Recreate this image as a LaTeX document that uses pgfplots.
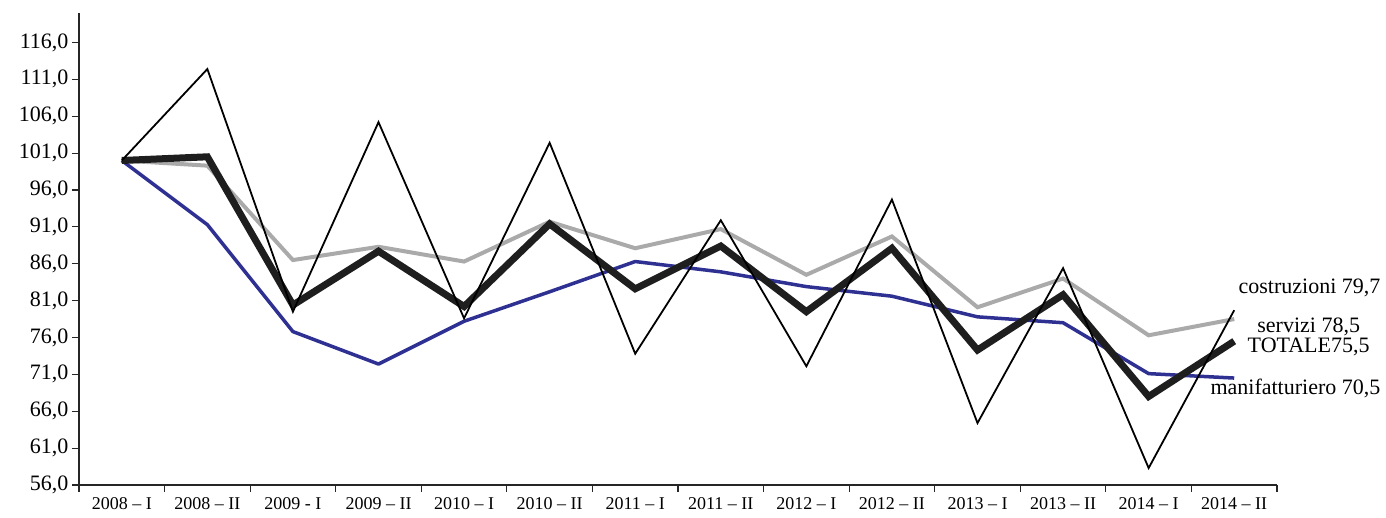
\documentclass[border=0pt]{standalone}
\usepackage{fontspec}
\setmainfont{Liberation Serif}
\usepackage{pgfplots}
\pgfplotsset{compat=1.18}
\definecolor{manblue}{RGB}{46,49,146}
\definecolor{servgray}{RGB}{170,170,170}
\definecolor{totblack}{RGB}{30,30,30}

\begin{document}
\begin{tikzpicture}
\begin{axis}[
    name=a,
    scale only axis,
    width=1198pt, height=472pt,
    xmin=-0.5, xmax=13.5,
    ymin=56, ymax=120,
    axis x line*=bottom,
    axis y line*=left,
    axis line style={-, line width=1.2pt, black!85},
    tick style={line width=1.2pt, black!85},
    tick align=outside,
    major tick length=7pt,
    ytick={56,61,...,116},
    xtick={-0.5,0.5,...,13.5},
    x tick label as interval,
    xticklabels={2008 -- I, 2008 -- II, 2009 - I, 2009 -- II, 2010 -- I, 2010 -- II, 2011 -- I, 2011 -- II, 2012 -- I, 2012 -- II, 2013 -- I, 2013 -- II, 2014 -- I, 2014 -- II},
    x tick label style={font=\fontsize{18}{20}\selectfont, yshift=-2pt},
    y tick label style={font=\fontsize{22}{24}\selectfont},
    /pgf/number format/.cd, fixed, fixed zerofill, precision=1, use comma, assume math mode=true,
    /pgfplots/.cd,
    clip=false,
]
% servizi
\addplot[servgray, line width=4pt, line join=miter] coordinates {
    (0,100) (1,99.3) (2,86.5) (3,88.3) (4,86.3) (5,91.7) (6,88.1)
    (7,90.7) (8,84.5) (9,89.7) (10,80.1) (11,84.0) (12,76.3) (13,78.5)
};
% manifatturiero
\addplot[manblue, line width=3.5pt, line join=round] coordinates {
    (0,100) (1,91.3) (2,76.8) (3,72.4) (4,78.2) (5,82.2) (6,86.3)
    (7,84.9) (8,82.9) (9,81.6) (10,78.8) (11,78.0) (12,71.1) (13,70.5)
};
% TOTALE
\addplot[totblack, line width=7pt, line join=miter] coordinates {
    (0,100) (1,100.5) (2,80.4) (3,87.7) (4,80.2) (5,91.4) (6,82.6)
    (7,88.4) (8,79.5) (9,88.1) (10,74.3) (11,81.8) (12,68.0) (13,75.5)
};
% costruzioni
\addplot[black, line width=1.8pt, line join=miter] coordinates {
    (0,100) (1,112.4) (2,79.5) (3,105.2) (4,78.6) (5,102.4) (6,73.8)
    (7,91.9) (8,72.1) (9,94.7) (10,64.4) (11,85.4) (12,58.3) (13,79.7)
};
\node[anchor=east, font=\fontsize{22}{24}\selectfont, inner sep=0pt] at (axis cs:14.71,82.7) {costruzioni 79,7};
\node[font=\fontsize{22}{24}\selectfont, inner sep=0pt] at (axis cs:13.87,77.5) {servizi 78,5};
\node[font=\fontsize{22}{24}\selectfont, inner sep=0pt] at (axis cs:13.87,74.7) {TOTALE75,5};
\node[anchor=east, font=\fontsize{22}{24}\selectfont, inner sep=0pt] at (axis cs:14.71,69.1) {manifatturiero 70,5};
\end{axis}
\path ([xshift=-79pt,yshift=-33pt]a.south west) rectangle ([xshift=109pt,yshift=13pt]a.north east);
\end{tikzpicture}
\end{document}
